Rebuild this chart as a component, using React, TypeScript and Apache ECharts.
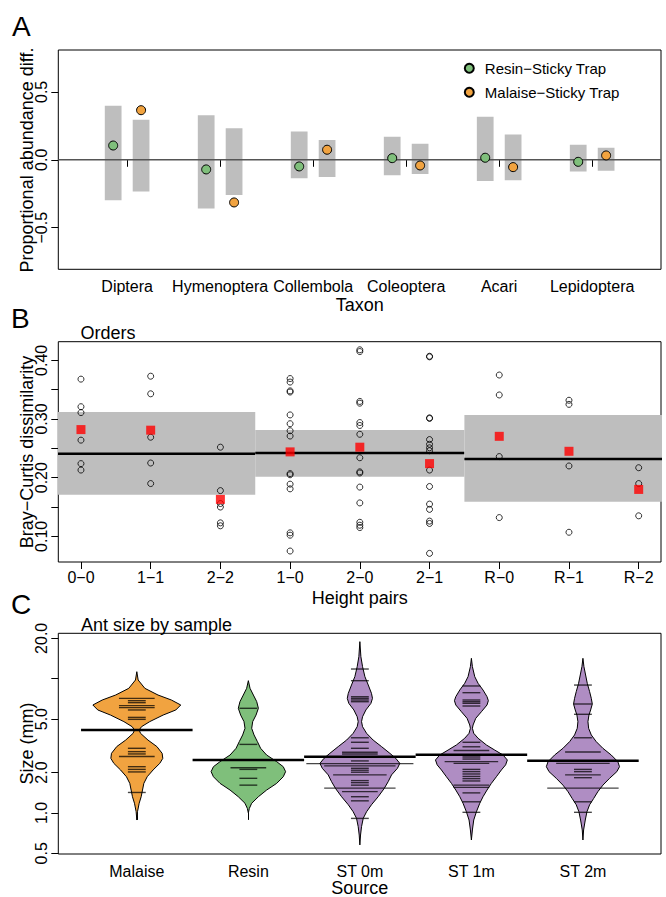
import React, { useEffect, useRef } from 'react';
import * as echarts from 'echarts';

const FONT = '"Liberation Sans", Arial, Helvetica, sans-serif';

// ---------- Panel A data ----------
const taxa = ['Diptera', 'Hymenoptera', 'Collembola', 'Coleoptera', 'Acari', 'Lepidoptera'];
const resinMid = [0.105, -0.071, -0.049, 0.012, 0.015, -0.015];
const resinLo = [-0.297, -0.358, -0.135, -0.113, -0.157, -0.086];
const resinHi = [0.397, 0.328, 0.208, 0.169, 0.316, 0.110];
const malaiseMid = [0.365, -0.314, 0.074, -0.042, -0.054, 0.032];
const malaiseLo = [-0.233, -0.260, -0.127, -0.105, -0.150, -0.081];
const malaiseHi = [0.294, 0.233, 0.145, 0.118, 0.186, 0.088];
const aYTicks = [-0.5, 0, 0.5];

// ---------- Panel B data ----------
const pairs = ['0−0', '1−1', '2−2', '1−0', '2−0', '2−1', 'R−0', 'R−1', 'R−2'];
const p00 = [0.368, 0.321, 0.311, 0.264, 0.224, 0.213];
const p11 = [0.373, 0.343, 0.269, 0.225, 0.190];
const p22 = [0.252, 0.178, 0.156, 0.150, 0.123, 0.118];
const p10 = [0.369, 0.363, 0.348, 0.346, 0.307, 0.292, 0.280, 0.271, 0.207, 0.205, 0.189, 0.181, 0.106, 0.102, 0.075];
const p20 = [0.418, 0.415, 0.330, 0.327, 0.294, 0.289, 0.274, 0.234, 0.210, 0.208, 0.184, 0.157, 0.124, 0.119, 0.115];
const p21 = [0.407, 0.406, 0.302, 0.301, 0.265, 0.257, 0.251, 0.246, 0.213, 0.185, 0.155, 0.146, 0.126, 0.122, 0.071];
const pR0 = [0.375, 0.341, 0.236, 0.132];
const pR1 = [0.332, 0.325, 0.220, 0.107];
const pR2 = [0.217, 0.190, 0.135];
const pairPoints = [p00, p11, p22, p10, p20, p21, pR0, pR1, pR2];
const pairMeans = [0.282, 0.281, 0.163, 0.244, 0.252, 0.224, 0.2705, 0.245, 0.180];
const bandFirst = [1, 4, 7];
const bandLast = [3, 6, 9];
const bandLo = [0.171, 0.2017, 0.1591];
const bandHi = [0.3119, 0.2813, 0.3068];
const bandMean = [0.2409, 0.242, 0.2318];
const bYTicks = [0.10, 0.15, 0.20, 0.25, 0.30, 0.35, 0.40];
const bYLabels = [0.10, 0.20, 0.30, 0.40];

// ---------- Panel C data ----------
const sources = ['Malaise', 'Resin', 'ST 0m', 'ST 1m', 'ST 2m'];
const sourceColors = ['#F1A340', '#7FBF7B', '#AF8DC3', '#AF8DC3', '#AF8DC3'];
const malaiseProfileSize = [11.28, 9.78, 8.48, 7.56, 6.94, 6.37, 5.85, 5.36, 4.79, 4.39, 4.15, 3.92, 3.49, 3.12, 2.78, 2.55, 2.34, 2.09, 1.86, 1.66, 1.48, 1.32, 1.18, 1.02, 0.885];
const malaiseProfileHalf = [0, 0.012, 0.072, 0.19, 0.31, 0.394, 0.35, 0.236, 0.116, 0.042, 0.021, 0.033, 0.10, 0.18, 0.227, 0.233, 0.206, 0.146, 0.093, 0.063, 0.051, 0.039, 0.021, 0.006, 0];
const resinProfileSize = [9.67, 8.48, 7.56, 6.75, 6.02, 5.36, 4.79, 4.27, 3.81, 3.40, 3.03, 2.70, 2.41, 2.21, 2.03, 1.86, 1.66, 1.48, 1.32, 1.18, 1.08, 1.00];
const resinProfileHalf = [0, 0.015, 0.045, 0.075, 0.09, 0.069, 0.039, 0.03, 0.051, 0.081, 0.11, 0.164, 0.254, 0.313, 0.334, 0.313, 0.254, 0.164, 0.09, 0.03, 0.009, 0];
const st0ProfileSize = [18.89, 14.60, 12.30, 10.36, 8.98, 7.78, 7.14, 6.55, 5.85, 5.21, 4.79, 4.39, 3.92, 3.49, 3.12, 2.78, 2.55, 2.34, 2.15, 1.92, 1.71, 1.52, 1.32, 1.15, 1.02, 0.911, 0.79, 0.684, 0.577];
const st0ProfileHalf = [0, 0.009, 0.024, 0.045, 0.075, 0.104, 0.113, 0.099, 0.054, 0.024, 0.015, 0.024, 0.06, 0.119, 0.194, 0.269, 0.322, 0.358, 0.337, 0.284, 0.254, 0.218, 0.164, 0.104, 0.06, 0.03, 0.015, 0.006, 0];
const st1ProfileSize = [14.19, 12.30, 10.36, 9.24, 8.24, 7.35, 6.86, 6.37, 5.68, 5.07, 4.52, 4.27, 3.92, 3.60, 3.21, 2.94, 2.70, 2.48, 2.28, 2.09, 1.86, 1.66, 1.48, 1.32, 1.18, 1.02, 0.885, 0.746, 0.628];
const st1ProfileHalf = [0, 0.009, 0.03, 0.06, 0.104, 0.14, 0.152, 0.14, 0.09, 0.039, 0.015, 0.009, 0.021, 0.06, 0.134, 0.209, 0.284, 0.322, 0.307, 0.269, 0.224, 0.179, 0.14, 0.104, 0.075, 0.045, 0.021, 0.009, 0];
const st2ProfileSize = [14.19, 12.30, 10.66, 9.24, 8.01, 7.14, 6.48, 5.85, 5.36, 4.79, 4.27, 3.81, 3.40, 3.03, 2.70, 2.41, 2.21, 2.03, 1.81, 1.61, 1.44, 1.28, 1.15, 1.02, 0.885, 0.746, 0.628];
const st2ProfileHalf = [0, 0.009, 0.024, 0.039, 0.06, 0.075, 0.084, 0.069, 0.054, 0.045, 0.051, 0.075, 0.119, 0.179, 0.254, 0.313, 0.328, 0.304, 0.239, 0.179, 0.134, 0.096, 0.06, 0.036, 0.021, 0.006, 0];
const profileSizes = [malaiseProfileSize, resinProfileSize, st0ProfileSize, st1ProfileSize, st2ProfileSize];
const profileHalves = [malaiseProfileHalf, resinProfileHalf, st0ProfileHalf, st1ProfileHalf, st2ProfileHalf];

const malaiseLines = [7.14, 6.86, 6.63, 6.30, 6.09, 5.85, 5.15, 4.98, 3.03, 2.86, 2.75, 2.63, 2.21, 2.11, 2.02, 1.42];
const malaiseCounts = [2, 1, 1, 2, 2, 1, 1, 1, 1, 1, 1, 2, 1, 1, 1, 1];
const resinLines = [6.02, 3.24, 2.17, 2.11, 1.81, 1.61];
const resinCounts = [1, 1, 2, 1, 1, 1];
const st0Lines = [11.81, 9.67, 7.34, 7.14, 6.94, 6.74, 3.63, 3.36, 3.03, 2.83, 2.75, 2.44, 2.33, 2.24, 2.15, 2.08, 2.01, 1.92, 1.74, 1.68, 1.61, 1.53, 1.44, 1.32, 1.23, 0.91];
const st0Counts = [1, 1, 1, 1, 1, 1, 1, 1, 1, 2, 2, 1, 6, 4, 1, 1, 1, 3, 1, 1, 1, 4, 2, 1, 1, 1];
const st1Lines = [8.83, 7.87, 6.94, 6.74, 6.56, 6.26, 3.36, 3.11, 2.92, 2.61, 2.52, 2.41, 2.34, 2.11, 2.03, 1.95, 1.87, 1.80, 1.73, 1.61, 1.55, 1.41, 1.21, 1.01];
const st1Counts = [1, 1, 1, 1, 1, 1, 1, 1, 2, 1, 1, 3, 2, 1, 1, 1, 1, 1, 1, 2, 2, 1, 1, 1];
const st2Lines = [8.97, 6.48, 5.43, 3.63, 2.84, 2.34, 2.11, 2.03, 1.92, 1.83, 1.53, 1.21, 1.01];
const st2Counts = [1, 1, 1, 1, 2, 3, 1, 1, 2, 1, 4, 1, 1];
const beanLines = [malaiseLines, resinLines, st0Lines, st1Lines, st2Lines];
const beanCounts = [malaiseCounts, resinCounts, st0Counts, st1Counts, st2Counts];
const sourceMeans = [4.15, 2.48, 2.62, 2.71, 2.45];
const cYTicks = [0.5, 1, 2, 5, 10, 20];
const cYLabels = [0.5, 1, 2, 5, 20];

// ---------- axis ranges ----------
const A_X = [0.26, 6.74];
const A_Y = [-0.806, 0.808];
const B_X = [0.675, 9.32];
const B_Y = [0.0563, 0.4318];
const C_X = [0.296, 5.70];
const C_Y_MM = [0.494, 21.8];

const GRID_LEFT = 58.3;
const GRID_RIGHT = 5;

const minusFmt = (s: string) => s.replace('-', '−');

function xAxisDef(gridIndex: number, range: number[], names: string[], margin: number) {
  const ticks = names.map((_, i) => i + 1);
  return {
    type: 'value', gridIndex, min: range[0], max: range[1],
    axisLine: { show: false }, splitLine: { show: false },
    axisTick: { show: true, length: 7, customValues: ticks, lineStyle: { color: '#000', width: 1 } },
    axisLabel: {
      customValues: ticks, margin, fontSize: 16, color: '#000', fontFamily: FONT,
      formatter: (v: number) => names[Math.round(v) - 1] ?? '',
    },
  };
}

function yAxisDef(gridIndex: number, range: number[], ticks: number[], labels: number[], fmt: (v: number) => string) {
  return {
    type: 'value', gridIndex, min: range[0], max: range[1],
    axisLine: { show: false }, splitLine: { show: false },
    axisTick: { show: true, length: 7, customValues: ticks, lineStyle: { color: '#000', width: 1 } },
    axisLabel: {
      customValues: labels, rotate: 90, margin: 9, fontSize: 16, color: '#000', fontFamily: FONT,
      formatter: fmt,
    },
  };
}

function buildOption() {
  const log = Math.log10;
  // Panel A bars
  const barData: number[][] = [];
  taxa.forEach((_, i) => {
    barData.push([i + 1 - 0.15, resinLo[i], resinHi[i]]);
    barData.push([i + 1 + 0.15, malaiseLo[i], malaiseHi[i]]);
  });
  const resinPts = resinMid.map((v, i) => [i + 1 - 0.15, v]);
  const malaisePts = malaiseMid.map((v, i) => [i + 1 + 0.15, v]);

  // Panel B
  const bandData = bandFirst.map((f, i) => [f - 0.5, bandLast[i] + 0.5, bandLo[i], bandHi[i], bandMean[i]]);
  const circleData: number[][] = [];
  pairPoints.forEach((arr, i) => arr.forEach((v) => circleData.push([i + 1, v])));
  const meanData = pairMeans.map((v, i) => [i + 1, v]);

  // Panel C
  const violinData = sources.map((_, i) => [i + 1]);
  const beanData: number[][] = [];
  beanLines.forEach((arr, g) => arr.forEach((s, k) => beanData.push([g + 1, log(s), beanCounts[g][k]])));
  const srcMeanData = sourceMeans.map((m, i) => [i + 1, log(m)]);

  const cFmt = (v: number) => {
    const mm = Math.pow(10, v);
    return mm.toFixed(1);
  };

  const text = (t: string, x: number, y: number, size: number, align = 'left', rot = 0) => ({
    type: 'text', x, y, rotation: rot, silent: true,
    style: { text: t, fontSize: size, fontFamily: FONT, fill: '#000', align, verticalAlign: 'middle' },
  });
  const midX = GRID_LEFT + (666 - GRID_RIGHT - GRID_LEFT) / 2;

  return {
    animation: false,
    textStyle: { fontFamily: FONT },
    grid: [
      { left: GRID_LEFT, right: GRID_RIGHT, top: 50, height: 219.3, show: true, borderColor: '#000', borderWidth: 1, backgroundColor: 'transparent' },
      { left: GRID_LEFT, right: GRID_RIGHT, top: 341.7, height: 220.3, show: true, borderColor: '#000', borderWidth: 1, backgroundColor: 'transparent' },
      { left: GRID_LEFT, right: GRID_RIGHT, top: 633.3, height: 220.7, show: true, borderColor: '#000', borderWidth: 1, backgroundColor: 'transparent' },
    ],
    xAxis: [xAxisDef(0, A_X, taxa, 9), xAxisDef(1, B_X, pairs, 7), xAxisDef(2, C_X, sources, 9)],
    yAxis: [
      yAxisDef(0, A_Y, aYTicks, aYTicks, (v: number) => minusFmt(v.toFixed(1))),
      yAxisDef(1, B_Y, bYTicks, bYLabels, (v: number) => v.toFixed(2)),
      yAxisDef(2, [log(C_Y_MM[0]), log(C_Y_MM[1])], cYTicks.map(log), cYLabels.map(log), cFmt),
    ],
    legend: {
      orient: 'vertical', left: 463.8, top: 59.3, padding: 0, itemGap: 6,
      itemWidth: 9, itemHeight: 9, icon: 'circle',
      data: ['Resin−Sticky Trap', 'Malaise−Sticky Trap'],
      textStyle: { fontSize: 15, color: '#000', fontFamily: FONT, lineHeight: 18, padding: [0, 0, 0, 6] },
    },
    graphic: [
      text('A', 12, 26, 28),
      text('B', 11, 318, 28),
      text('C', 11, 604.5, 28),
      text('Orders', 80.5, 333, 18),
      text('Ant size by sample', 81, 624.5, 18),
      text('Taxon', midX, 305, 18, 'center'),
      text('Height pairs', midX, 597.5, 18, 'center'),
      text('Source', midX, 888, 18, 'center'),
      text('Proportional abundance diff.', 27, 160, 18, 'center', Math.PI / 2),
      text('Bray−Curtis dissimilarity', 27, 452, 18, 'center', Math.PI / 2),
      text('Size (mm)', 27, 743.6, 18, 'center', Math.PI / 2),
    ],
    series: [
      // ---- Panel A ----
      {
        type: 'custom', name: 'ci', xAxisIndex: 0, yAxisIndex: 0, z: 1, clip: true,
        data: barData,
        renderItem: (params: any, api: any) => {
          const x = api.value(0), lo = api.value(1), hi = api.value(2);
          const p1 = api.coord([x - 0.09, hi]);
          const p2 = api.coord([x + 0.09, lo]);
          return { type: 'rect', shape: { x: p1[0], y: p1[1], width: p2[0] - p1[0], height: p2[1] - p1[1] }, style: { fill: '#BEBEBE' } };
        },
      },
      {
        type: 'line', name: 'zero', xAxisIndex: 0, yAxisIndex: 0, z: 2, symbol: 'none', silent: true,
        data: [[A_X[0], 0], [A_X[1], 0]],
        lineStyle: { color: '#555555', width: 1.5 },
      },
      {
        type: 'scatter', name: 'Resin−Sticky Trap', xAxisIndex: 0, yAxisIndex: 0, z: 3,
        data: resinPts, symbol: 'circle', symbolSize: 9,
        itemStyle: { color: '#7FBF7B', borderColor: '#000', borderWidth: 1, opacity: 1 },
      },
      {
        type: 'scatter', name: 'Malaise−Sticky Trap', xAxisIndex: 0, yAxisIndex: 0, z: 3,
        data: malaisePts, symbol: 'circle', symbolSize: 9,
        itemStyle: { color: '#F1A340', borderColor: '#000', borderWidth: 1, opacity: 1 },
      },
      // ---- Panel B ----
      {
        type: 'custom', name: 'bands', xAxisIndex: 1, yAxisIndex: 1, z: 1, clip: true,
        data: bandData,
        renderItem: (params: any, api: any) => {
          const x0 = api.value(0), x1 = api.value(1), lo = api.value(2), hi = api.value(3), m = api.value(4);
          const a = api.coord([x0, hi]);
          const b = api.coord([x1, lo]);
          const l0 = api.coord([x0, m]);
          const l1 = api.coord([x1, m]);
          return {
            type: 'group',
            children: [
              { type: 'rect', shape: { x: a[0], y: a[1], width: b[0] - a[0], height: b[1] - a[1] }, style: { fill: '#BEBEBE' } },
              { type: 'line', shape: { x1: l0[0], y1: l0[1], x2: l1[0], y2: l1[1] }, style: { stroke: '#000', lineWidth: 2.5 } },
            ],
          };
        },
      },
      {
        type: 'scatter', name: 'obs', xAxisIndex: 1, yAxisIndex: 1, z: 3,
        data: circleData, symbol: 'circle', symbolSize: 6,
        itemStyle: { color: 'rgba(0,0,0,0)', borderColor: '#000', borderWidth: 1 },
      },
      {
        type: 'scatter', name: 'mean', xAxisIndex: 1, yAxisIndex: 1, z: 4,
        data: meanData, symbol: 'rect', symbolSize: 9,
        itemStyle: { color: '#FF0000' },
      },
      // ---- Panel C ----
      {
        type: 'custom', name: 'beans', xAxisIndex: 2, yAxisIndex: 2, z: 1,
        data: violinData,
        renderItem: (params: any, api: any) => {
          const g = params.dataIndex;
          const cx = api.value(0);
          const sizes = profileSizes[g];
          const halves = profileHalves[g];
          const right = sizes.map((s, k) => api.coord([cx + halves[k], log(s)]));
          const left = sizes.map((s, k) => api.coord([cx - halves[k], log(s)])).reverse();
          return {
            type: 'polygon', shape: { points: right.concat(left) },
            style: { fill: sourceColors[g], stroke: '#000', lineWidth: 1 },
          };
        },
      },
      {
        type: 'custom', name: 'beanlines', xAxisIndex: 2, yAxisIndex: 2, z: 2,
        data: beanData,
        renderItem: (params: any, api: any) => {
          const cx = api.value(0), y = api.value(1), c = api.value(2);
          const p1 = api.coord([cx - 0.08 * c, y]);
          const p2 = api.coord([cx + 0.08 * c, y]);
          return { type: 'line', shape: { x1: p1[0], y1: p1[1], x2: p2[0], y2: p2[1] }, style: { stroke: 'rgba(0,0,0,0.72)', lineWidth: 1.4 } };
        },
      },
      {
        type: 'custom', name: 'beanmeans', xAxisIndex: 2, yAxisIndex: 2, z: 3,
        data: srcMeanData,
        renderItem: (params: any, api: any) => {
          const cx = api.value(0), y = api.value(1);
          const p1 = api.coord([cx - 0.5, y]);
          const p2 = api.coord([cx + 0.5, y]);
          return { type: 'line', shape: { x1: p1[0], y1: p1[1], x2: p2[0], y2: p2[1] }, style: { stroke: '#000', lineWidth: 2.5 } };
        },
      },
    ],
  };
}

export default function App() {
  const ref = useRef<HTMLDivElement>(null);
  useEffect(() => {
    if (!ref.current) return;
    const chart = echarts.init(ref.current, null, { renderer: 'svg' });
    chart.setOption(buildOption() as any);
    return () => chart.dispose();
  }, []);
  return <div ref={ref} style={{ position: 'fixed', left: 0, top: 0, width: 666, height: 897, background: '#fff' }} />;
}
